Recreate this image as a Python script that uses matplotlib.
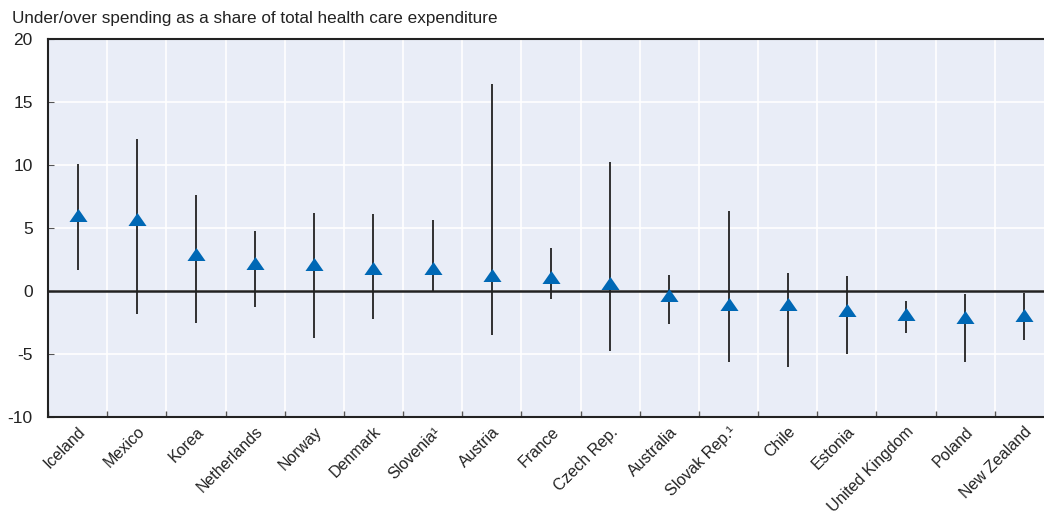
import matplotlib.pyplot as plt
import numpy as np
from matplotlib.path import Path

plt.rcParams['font.family'] = ['Liberation Sans Narrow', 'Liberation Sans', 'DejaVu Sans']
plt.rcParams['axes.unicode_minus'] = False

# Countries, point estimate and range of under/over spending (% of health expenditure)
countries = ["Iceland", "Mexico", "Korea", "Netherlands", "Norway", "Denmark",
             "Slovenia\u00b9", "Austria", "France", "Czech Rep.", "Australia",
             "Slovak Rep.\u00b9", "Chile", "Estonia", "United Kingdom", "Poland",
             "New Zealand"]
central = [6.0, 5.7, 2.9, 2.25, 2.15, 1.8, 1.85, 1.27, 1.13, 0.66, -0.33,
           -1.06, -1.06, -1.53, -1.83, -2.04, -1.93]
upper = [10.1, 12.1, 7.6, 4.8, 6.2, 6.1, 5.6, 16.4, 3.4, 10.25, 1.3,
         6.35, 1.4, 1.2, -0.77, -0.24, -0.13]
lower = [1.67, -1.85, -2.5, -1.3, -3.7, -2.2, 0.0, -3.5, -0.63, -4.76, -2.6,
         -5.66, -6.0, -5.0, -3.36, -5.66, -3.9]

bg = "#E9EDF7"
blue = "#0068B5"
dark = "#222222"

fig = plt.figure(figsize=(10.44, 5.22), dpi=100)
ax = fig.add_axes([48 / 1044, 1 - 417 / 522, 1006 / 1044, 378 / 522])
ax.set_facecolor(bg)

x = np.arange(len(countries))

# min-max ranges
ax.vlines(x, lower, upper, color=dark, lw=1.3, zorder=3)

# flattened triangle marker
tri = Path([(-1, -0.72), (1, -0.72), (0, 0.72), (-1, -0.72)],
           [Path.MOVETO, Path.LINETO, Path.LINETO, Path.CLOSEPOLY])
ax.plot(x, central, linestyle="none", marker=tri, markersize=13,
        color=blue, markeredgewidth=0, zorder=4)

ax.axhline(0, color=dark, lw=1.8, zorder=2)

ax.set_xlim(-0.5, len(countries) - 0.5)
ax.set_ylim(-10, 20)
ax.set_yticks(np.arange(-10, 21, 5))

# boundaries between countries carry the ticks and the gridlines
ax.set_xticks(np.arange(len(countries) + 1) - 0.5)
ax.set_xticklabels([])
ax.set_xticks(x, minor=True)
ax.set_xticklabels(countries, minor=True, rotation=45, ha="right",
                   rotation_mode="anchor", fontsize=11.5, color=dark)
ax.tick_params(axis="x", which="minor", length=0, pad=5)
ax.tick_params(axis="x", which="major", direction="in", length=4,
               color="#555555", width=1)
ax.tick_params(axis="y", direction="in", length=4, color="#555555",
               labelsize=12.5, labelcolor=dark, pad=11)

ax.grid(True, which="major", color="white", lw=1.2, zorder=1)
ax.set_axisbelow(True)

for side in ["left", "bottom", "top"]:
    ax.spines[side].set_color(dark)
    ax.spines[side].set_linewidth(1.5)
ax.spines["right"].set_visible(False)

fig.text(12 / 1044, 1 - 18 / 522, "Under/over spending as a share of total health care expenditure",
         fontsize=12.3, color=dark, va="center", ha="left")

fig.savefig("out.png", dpi=100)
